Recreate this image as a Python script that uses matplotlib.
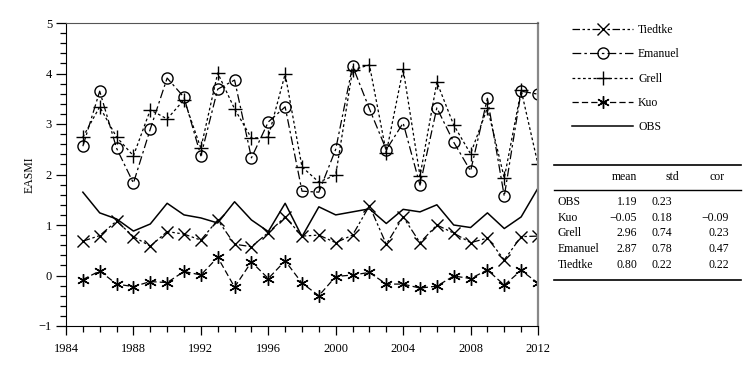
import matplotlib
matplotlib.use("Agg")
import matplotlib.pyplot as plt
from matplotlib.lines import Line2D
from matplotlib.ticker import MultipleLocator

plt.rcParams['font.family'] = ['Liberation Serif', 'DejaVu Serif']
plt.rcParams['font.size'] = 8.5

# ---- data
years = list(range(1985, 2013))
obs = [1.65, 1.24, 1.12, 0.88, 1.02, 1.43, 1.20, 1.14, 1.04, 1.46,
       1.10, 0.87, 1.43, 0.77, 1.36, 1.20, 1.26, 1.32, 1.03, 1.31,
       1.26, 1.40, 1.00, 0.95, 1.24, 0.93, 1.16, 1.73]
kuo = [-0.08, 0.09, -0.17, -0.22, -0.12, -0.14, 0.08, 0.01, 0.36, -0.23,
       0.27, -0.06, 0.29, -0.15, -0.40, -0.02, 0.01, 0.06, -0.17, -0.17,
       -0.25, -0.21, -0.01, -0.06, 0.11, -0.19, 0.10, -0.15]
grell = [2.74, 3.34, 2.74, 2.37, 3.28, 3.10, 3.48, 2.52, 4.01, 3.30,
         2.72, 2.74, 3.99, 2.15, 1.85, 1.99, 4.07, 4.17, 2.43, 4.09,
         1.97, 3.83, 2.98, 2.41, 3.32, 1.93, 3.67, 2.20]
emanuel = [2.56, 3.65, 2.52, 1.83, 2.90, 3.91, 3.53, 2.37, 3.69, 3.87,
           2.33, 3.04, 3.34, 1.67, 1.65, 2.50, 4.15, 3.30, 2.49, 3.02,
           1.79, 3.32, 2.64, 2.07, 3.51, 1.57, 3.65, 3.59]
tiedtke = [0.68, 0.79, 1.08, 0.77, 0.58, 0.87, 0.82, 0.70, 1.10, 0.62,
           0.57, 0.85, 1.16, 0.78, 0.80, 0.65, 0.80, 1.38, 0.62, 1.16,
           0.65, 1.00, 0.84, 0.65, 0.74, 0.31, 0.77, 0.78]

# table of statistics
row_names = ['OBS', 'Kuo', 'Grell', 'Emanuel', 'Tiedtke']
col_names = ['mean', 'std', 'cor']
means = ['1.19', '\u22120.05', '2.96', '2.87', '0.80']
stds = ['0.23', '0.18', '0.74', '0.78', '0.22']
cors = ['', '\u22120.09', '0.23', '0.47', '0.22']

W, H = 756, 368
fig = plt.figure(figsize=(W / 100, H / 100), dpi=100)
ax = fig.add_axes([66 / W, 1 - 326 / H, 472 / W, 303 / H])

k = dict(color='black', lw=0.9, mfc='none', mec='black', clip_on=True)
ax.plot(years, tiedtke, ls=(0, (6, 2, 2, 2, 2, 2)), marker='x', ms=8, label='Tiedtke', **k)
ax.plot(years, emanuel, ls=(0, (7, 2.5, 2, 2.5)), marker='o', ms=8, label='Emanuel', **k)
ax.plot(years, grell, ls=(0, (2.2, 2)), marker='+', ms=10, label='Grell', **k)
ax.plot(years, kuo, ls=(0, (5, 2.5)), marker=(6, 2, 0), ms=9, label='Kuo', **k)
ax.plot(years, obs, ls='-', label='OBS', color='black', lw=1.1)

ax.set_xlim(1984, 2012)
ax.set_ylim(-1, 5)
ax.xaxis.set_major_locator(MultipleLocator(4))
ax.xaxis.set_minor_locator(MultipleLocator(1))
ax.yaxis.set_major_locator(MultipleLocator(1))
ax.yaxis.set_minor_locator(MultipleLocator(0.2))
ax.tick_params(which='major', direction='out', length=7, width=0.9, labelsize=9, pad=3)
ax.tick_params(axis='x', which='major', length=6.5, pad=6)
ax.tick_params(which='minor', direction='out', length=4, width=0.9)
ax.spines['top'].set_color('#555555')
ax.spines['right'].set_color('#888888')
ax.spines['right'].set_linewidth(1.6)
ax.set_ylabel('EASMI', fontsize=8.5, labelpad=2)

fig.legend(loc='upper left', bbox_to_anchor=(566 / W, 1 - 18 / H), frameon=False,
           handlelength=5.2, handletextpad=0.4, labelspacing=1.05, borderpad=0,
           fontsize=8.5)

# ---- statistics table drawn as text
def fx(px):
    return px / W

def fy(py):
    return 1 - py / H

for yy, lw in [(165, 1.2), (190, 1.0), (280, 1.2)]:
    fig.add_artist(Line2D([fx(554), fx(741)], [fy(yy), fy(yy)], color='black', lw=lw))

col_x = [637, 672, 729]
head_x = [625, 672, 717]
for name, hx in zip(col_names, head_x):
    fig.text(fx(hx), fy(177), name, ha='center', va='center', fontsize=8.5)

row_y = [202, 218, 233, 249, 265]
for i, name in enumerate(row_names):
    fig.text(fx(558), fy(row_y[i]), name, ha='left', va='center', fontsize=8.5)
    for col, cx in zip([means, stds, cors], col_x):
        fig.text(fx(cx), fy(row_y[i]), col[i], ha='right', va='center', fontsize=8.5)

fig.savefig('out.png', dpi=100)
